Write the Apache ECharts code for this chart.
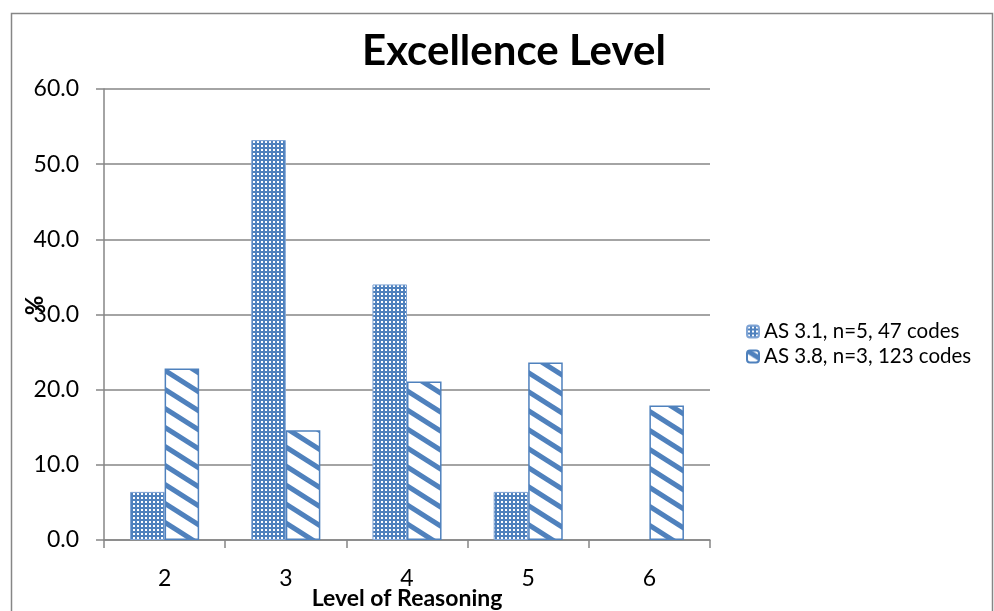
<!DOCTYPE html>
<html>
<head>
<meta charset="utf-8">
<script src="https://cdn.jsdelivr.net/npm/echarts@6/dist/echarts.min.js"></script>
<style>
  html, body { margin: 0; padding: 0; background: #fff; }
  #chart { width: 994px; height: 611px; }
</style>
</head>
<body>
<div id="chart"></div>
<script>
// Reasoning levels on the category axis
const levels = ['2', '3', '4', '5', '6'];
// Percentage of codes at each level (no AS 3.1 codes at level 6)
const as31 = [6.4, 53.2, 34.0, 6.4, null];
const as38 = [22.8, 14.6, 21.1, 23.6, 17.9];
const seriesNames = ['AS 3.1, n=5, 47 codes', 'AS 3.8, n=3, 123 codes'];
const yTicks = { min: 0, max: 60, step: 10 };

const BLUE = '#4f81bd';
const FONT = 'Lato, "Liberation Sans", sans-serif';

// Blue fill with a grid of small white dots
function dotPattern() {
  const c = document.createElement('canvas');
  c.width = 4; c.height = 4;
  const g = c.getContext('2d');
  g.fillStyle = BLUE; g.fillRect(0, 0, 4, 4);
  g.fillStyle = '#ffffff'; g.fillRect(1, 1, 2, 2);
  return c;
}

// White fill with wide downward diagonal stripes
function stripePattern() {
  const W = 30, H = 19;
  const c = document.createElement('canvas');
  c.width = W; c.height = H;
  const g = c.getContext('2d');
  g.fillStyle = '#ffffff'; g.fillRect(0, 0, W, H);
  g.strokeStyle = BLUE; g.lineWidth = 5;
  for (let j = -1; j <= 1; j++) {
    g.beginPath();
    g.moveTo(-W, j * H - H);
    g.lineTo(2 * W, j * H + 2 * H);
    g.stroke();
  }
  return c;
}

const chart = echarts.init(document.getElementById('chart'), null, { renderer: 'canvas' });

chart.setOption({
  animation: false,
  backgroundColor: '#ffffff',
  textStyle: { fontFamily: FONT },
  title: {
    text: 'Excellence Level',
    left: 357,
    top: 25,
    textStyle: { fontFamily: FONT, fontWeight: 'bold', fontSize: 42, color: '#000' }
  },
  legend: {
    orient: 'vertical',
    left: 741,
    top: 316,
    itemWidth: 12,
    itemHeight: 12,
    itemGap: 4,
    textStyle: { fontFamily: FONT, fontSize: 20.5, color: '#000' },
    data: seriesNames
  },
  grid: {
    left: 104, right: 284, top: 89, bottom: 71,
    containLabel: false,
    outerBoundsMode: 'none'
  },
  xAxis: {
    type: 'category',
    data: levels,
    name: 'Level of Reasoning',
    nameLocation: 'middle',
    nameGap: 47,
    nameMoveOverlap: false,
    nameTextStyle: { fontFamily: FONT, fontWeight: 'bold', fontSize: 23, color: '#000' },
    axisLine: { lineStyle: { color: '#868686', width: 1.5 } },
    axisTick: { show: true, length: 8, lineStyle: { color: '#868686', width: 1.5 } },
    axisLabel: { fontFamily: FONT, fontSize: 23, color: '#000', margin: 27 }
  },
  yAxis: {
    type: 'value',
    min: yTicks.min,
    max: yTicks.max,
    interval: yTicks.step,
    name: '%',
    nameLocation: 'middle',
    nameGap: 57,
    nameMoveOverlap: false,
    nameTextStyle: {
      fontFamily: FONT, fontWeight: 'bold', fontSize: 24, color: '#000',
      padding: [0, 0, 0, 18]
    },
    axisLine: { show: true, lineStyle: { color: '#868686', width: 1.5 } },
    axisTick: { show: true, length: 8, lineStyle: { color: '#868686', width: 1.5 } },
    axisLabel: {
      fontFamily: FONT, fontSize: 23, color: '#000', margin: 25,
      formatter: v => v.toFixed(1)
    },
    splitLine: { lineStyle: { color: '#868686', width: 1.5 } }
  },
  series: [
    {
      name: seriesNames[0],
      type: 'bar',
      data: as31,
      barGap: '0%',
      barCategoryGap: '43%',
      itemStyle: {
        color: { image: dotPattern(), repeat: 'repeat' },
        borderColor: '#7ea3d4',
        borderWidth: 1
      }
    },
    {
      name: seriesNames[1],
      type: 'bar',
      data: as38,
      barGap: '0%',
      barCategoryGap: '43%',
      itemStyle: {
        color: { image: stripePattern(), repeat: 'repeat' },
        borderColor: BLUE,
        borderWidth: 1.5
      }
    }
  ],
  graphic: [
    {
      type: 'rect',
      silent: true,
      shape: { x: 11.5, y: 13.5, width: 981, height: 620 },
      style: { fill: null, stroke: '#868686', lineWidth: 1.5 }
    }
  ]
});
</script>
</body>
</html>
